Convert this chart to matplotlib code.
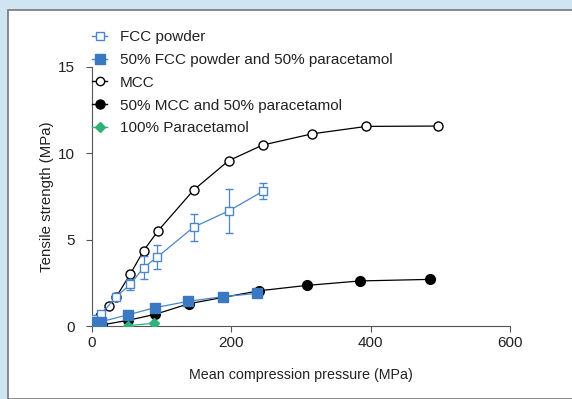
import matplotlib
matplotlib.use("Agg")
import matplotlib.pyplot as plt
from matplotlib.patches import Rectangle
from matplotlib.lines import Line2D

plt.rcParams["font.family"] = ["Liberation Sans", "DejaVu Sans"]

# FCC powder (open squares, with error bars)
fcc_x = [4, 13, 35, 55, 74, 94, 146, 197, 246]
fcc_y = [0.39, 0.69, 1.70, 2.41, 3.38, 4.0, 5.73, 6.68, 7.82]
fcc_err = [0.1, 0.15, 0.2, 0.3, 0.68, 0.7, 0.78, 1.28, 0.48]

# 50% FCC powder and 50% paracetamol
fccp_x = [3, 13, 52, 90, 138, 188, 237]
fccp_y = [0.21, 0.25, 0.65, 1.06, 1.43, 1.70, 1.89]

# MCC
mcc_x = [5, 12, 24, 35, 55, 74, 95, 146, 196, 245, 316, 394, 497]
mcc_y = [0.2, 0.6, 1.18, 1.70, 3.01, 4.36, 5.52, 7.88, 9.57, 10.48, 11.13, 11.56, 11.58]

# 50% MCC and 50% paracetamol
mccp_x = [3, 14, 52, 91, 139, 240, 308, 385, 485]
mccp_y = [0.16, 0.06, 0.33, 0.68, 1.29, 2.04, 2.35, 2.61, 2.70]

# 100% Paracetamol
para_x = [52, 89]
para_y = [0.02, 0.16]

labels = ["FCC powder", "50% FCC powder and 50% paracetamol", "MCC",
          "50% MCC and 50% paracetamol", "100% Paracetamol"]

blue = "#4a86c8"
blue_fill = "#3a78c2"
green = "#2db37a"

fig = plt.figure(figsize=(5.72, 3.99), dpi=100)
fig.patch.set_facecolor("#cfe5f1")
fig.patches.append(Rectangle((8 / 572, 0), 1.0, 1 - 10 / 399, transform=fig.transFigure,
                             facecolor="white", edgecolor="#777777", linewidth=1.2, zorder=-5))

ax = fig.add_axes([92 / 572, 1 - 326 / 399, (510 - 92) / 572, (326 - 67) / 399])
ax.set_facecolor("none")
ax.set_zorder(2)

ax.errorbar(fcc_x, fcc_y, yerr=fcc_err, color=blue, marker="s", mfc="white", mec=blue,
            ms=6, lw=0.9, capsize=3, elinewidth=0.9, zorder=3)
ax.plot(fccp_x, fccp_y, color=blue, marker="s", mfc=blue_fill, mec=blue_fill, ms=6.5, lw=0.9, zorder=4)
ax.plot(mcc_x, mcc_y, color="black", marker="o", mfc="white", mec="black", ms=6.5, lw=0.9, zorder=2)
ax.plot(mccp_x, mccp_y, color="black", marker="o", mfc="black", mec="black", ms=7, lw=0.9, zorder=2)
ax.plot(para_x, para_y, color=green, marker="D", mfc=green, mec=green, ms=5, lw=0.9, zorder=5)

ax.set_xlim(0, 600)
ax.set_ylim(0, 15)
ax.set_xticks([0, 200, 400, 600])
ax.set_yticks([0, 5, 10, 15])
for s in ["top", "right"]:
    ax.spines[s].set_visible(False)
for s in ["left", "bottom"]:
    ax.spines[s].set_color("#555555")
ax.tick_params(direction="out", length=4, color="#555555", labelsize=11, labelcolor="#222222")
ax.tick_params(axis="y", pad=8)
ax.set_xlabel("Mean compression pressure (MPa)", fontsize=10.3, color="#222222", labelpad=13)
ax.set_ylabel("Tensile strength (MPa)", fontsize=10.8, color="#222222", labelpad=3)

handles = [
    Line2D([], [], color=blue, marker="s", mfc="white", mec=blue, ms=6, lw=1),
    Line2D([], [], color=blue, marker="s", mfc=blue_fill, mec=blue_fill, ms=6.5, lw=1),
    Line2D([], [], color="black", marker="o", mfc="white", mec="black", ms=6, lw=1),
    Line2D([], [], color="black", marker="o", mfc="black", mec="black", ms=6.5, lw=1),
    Line2D([], [], color=green, marker="D", mfc=green, mec=green, ms=5, lw=1),
]
fig.legend(handles, labels, loc="upper left", bbox_to_anchor=(92 / 572, 1 - 30 / 399),
           frameon=False, fontsize=11, handlelength=1.0, handletextpad=0.8,
           labelspacing=0.58, borderpad=0, borderaxespad=0, labelcolor="#222222")

fig.savefig("out.png", dpi=100, facecolor=fig.get_facecolor())
